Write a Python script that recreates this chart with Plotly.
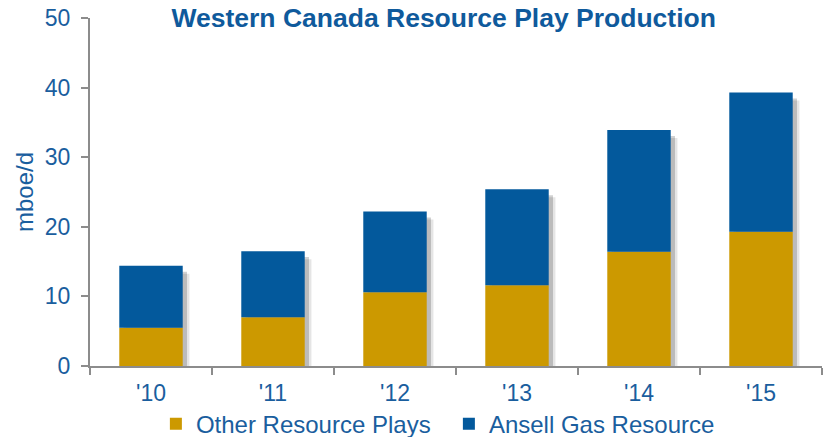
import plotly.graph_objects as go

years = ["'10", "'11", "'12", "'13", "'14", "'15"]
other_plays = [5.5, 7.0, 10.6, 11.6, 16.4, 19.3]
ansell_gas = [8.9, 9.5, 11.6, 13.8, 17.5, 20.0]
y_ticks = [0, 10, 20, 30, 40, 50]

totals = [a + b for a, b in zip(other_plays, ansell_gas)]

GOLD = "#CC9900"
BLUE = "#03599C"
TXT = "#1A5E9E"
FONT = "Liberation Sans, Arial, sans-serif"

fig = go.Figure()

# soft drop shadow behind each stacked bar (two layers for a blurred look)
for off, alpha, cut in [(0.055, 0.10, 0.9), (0.035, 0.18, 0.6)]:
    fig.add_trace(go.Bar(
        x=years, y=[t - cut for t in totals], base=-0.25,
        width=0.52, offset=-0.26 + off,
        marker=dict(color=f"rgba(0,0,0,{alpha})", line=dict(width=0)),
        showlegend=False, hoverinfo="skip"))

fig.add_trace(go.Bar(
    x=years, y=other_plays, base=0, name="Other Resource Plays",
    width=0.52, offset=-0.26,
    marker=dict(color=GOLD, line=dict(width=0))))
fig.add_trace(go.Bar(
    x=years, y=ansell_gas, base=other_plays, name="Ansell Gas Resource",
    width=0.52, offset=-0.26,
    marker=dict(color=BLUE, line=dict(width=0))))

fig.update_layout(
    width=834, height=437,
    barmode="overlay",
    plot_bgcolor="white", paper_bgcolor="white",
    margin=dict(l=90, r=12, t=18, b=71, autoexpand=False),
    font=dict(family=FONT, color=TXT, size=23),
    title=dict(text="<b>Western Canada Resource Play Production</b>",
               x=0.532, xanchor="center", y=0.959, yanchor="middle",
               font=dict(family=FONT, size=26.5, color="#0F5A9C")),
    legend=dict(orientation="h", x=0.09, xanchor="left", y=-0.167, yanchor="middle",
                font=dict(family=FONT, size=24, color=TXT),
                itemwidth=30, entrywidth=248, entrywidthmode="pixels",
                traceorder="normal", bgcolor="rgba(0,0,0,0)"),
)

fig.update_xaxes(
    showline=True, linecolor="#8C8C8C", linewidth=2,
    ticks="outside", ticklen=7, tickcolor="#8C8C8C", tickwidth=2,
    tickson="boundaries", automargin=False, ticklabelstandoff=5,
    tickfont=dict(family=FONT, size=23, color=TXT),
    showgrid=False, zeroline=False)

fig.update_yaxes(
    range=[0, 50], tickvals=y_ticks, automargin=False, ticklabelstandoff=6,
    showline=True, linecolor="#8C8C8C", linewidth=2,
    ticks="outside", ticklen=7, tickcolor="#8C8C8C", tickwidth=2,
    tickfont=dict(family=FONT, size=23, color=TXT),
    showgrid=False, zeroline=False,
    title=dict(text="mboe/d", font=dict(family=FONT, size=24, color=TXT), standoff=4))

fig.write_html(
    "out.html",
    config={"displayModeBar": False},
    post_script="document.body.style.margin='0';document.body.style.overflow='hidden';",
)
